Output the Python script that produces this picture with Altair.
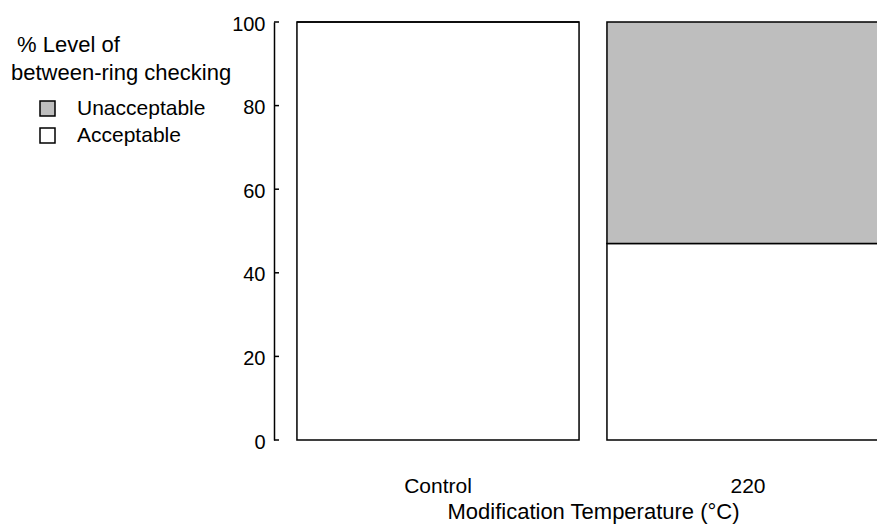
import altair as alt
import pandas as pd

categories = ["Control", "220"]
acceptable = [100, 47]
unacceptable = [0, 53]
levels = ["Unacceptable", "Acceptable"]
level_colors = ["#BEBEBE", "#FFFFFF"]
y_ticks = [0, 20, 40, 60, 80, 100]

rows = []
for c, a, u in zip(categories, acceptable, unacceptable):
    rows.append({"temp": c, "level": "Acceptable", "pct": a, "ord": 0})
    rows.append({"temp": c, "level": "Unacceptable", "pct": u, "ord": 1})
df = pd.DataFrame(rows)
ticks_df = pd.DataFrame({"v": y_ticks})

FONT = "Liberation Sans"

bars = alt.Chart(df).mark_bar(stroke="black", strokeWidth=1.5).encode(
    x=alt.X(
        "temp:N",
        sort=categories,
        scale=alt.Scale(range=[0, 638], paddingInner=0.09, paddingOuter=0.074),
        axis=alt.Axis(
            title="Modification Temperature (°C)",
            labelAngle=0,
            domain=False,
            ticks=False,
            tickSize=0,
            labelPadding=35,
            labelFontSize=21,
            labelColor="black",
            labelFont=FONT,
            titleFont=FONT,
            titleFontSize=22,
            titleFontWeight="normal",
            titleColor="black",
            titleX=319,
            titleY=61,
            titleBaseline="top",
        ),
    ),
    y=alt.Y(
        "pct:Q",
        stack="zero",
        scale=alt.Scale(domain=[0, 100], nice=False),
        axis=alt.Axis(
            title=None,
            values=y_ticks,
            grid=False,
            ticks=False,
            tickSize=0,
            domain=True,
            domainColor="black",
            domainWidth=1.5,
            labelPadding=9,
            labelFontSize=20,
            labelFont=FONT,
            labelColor="black",
            labelOffset=2,
        ),
    ),
    color=alt.Color(
        "level:N",
        scale=alt.Scale(domain=levels, range=level_colors),
        legend=alt.Legend(
            title=["\u200b\u00a0% Level of", "between-ring checking"],
            orient="none",
            legendX=-263,
            legendY=13,
            padding=0,
            titleFont=FONT,
            titleFontSize=22,
            titleFontWeight="normal",
            titleColor="black",
            titleLineHeight=28,
            titlePadding=13,
            titleAnchor="start",
            titleAlign="left",
            titleLimit=500,
            symbolType="square",
            symbolSize=225,
            symbolStrokeColor="black",
            symbolStrokeWidth=1.5,
            symbolOffset=26,
            labelFont=FONT,
            labelFontSize=21,
            labelColor="black",
            labelOffset=19,
            labelLimit=400,
            rowPadding=5,
        ),
    ),
    order=alt.Order("ord:Q", sort="ascending"),
)

tick_marks = alt.Chart(ticks_df).mark_rule(color="black", strokeWidth=1.5).encode(
    y=alt.Y("v:Q"),
    x=alt.value(0),
    x2=alt.value(5),
)

chart = alt.layer(bars, tick_marks).properties(
    width=603,
    height=418,
    autosize=alt.AutoSizeParams(type="none"),
    padding={"left": 274, "top": 22, "right": 0, "bottom": 85},
    background="white",
).configure_view(strokeWidth=0)

chart.save("out.html", embed_options={"renderer": "svg", "actions": False})
